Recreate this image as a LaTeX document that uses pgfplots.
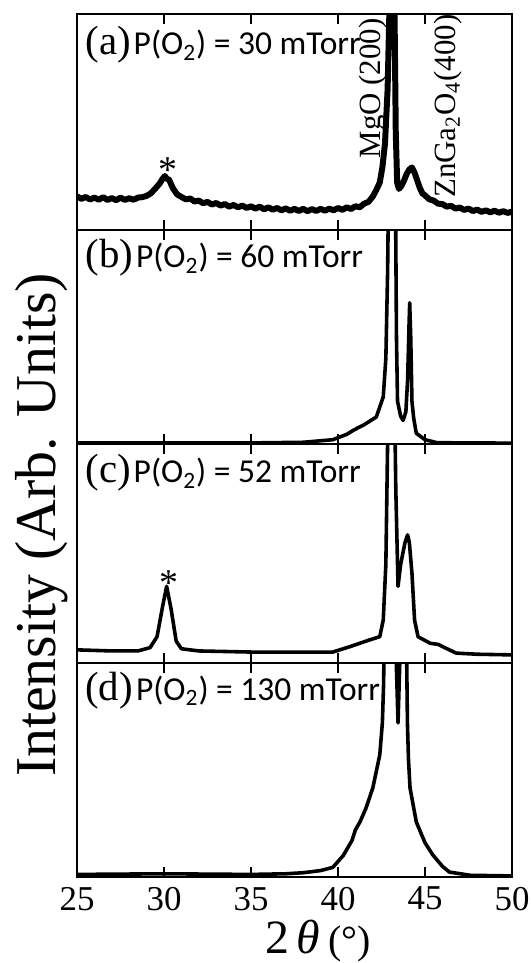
\documentclass[border=0pt]{standalone}
\usepackage{fontspec}
\setmainfont{Liberation Serif}
\newfontfamily\carlito{Carlito}
\usepackage{pgfplots}
\pgfplotsset{compat=1.18}
\pgfplotsset{
  panel/.style={
    scale only axis, width=217.5bp,
    xmin=25, xmax=50, ymin=0, ymax=1,
    xtick={25,30,35,40,45,50}, ytick=\empty,
    xtick pos=both, tick align=inside,
    major tick length=5bp,
    every tick/.style={black, line width=1bp},
    axis line style={line width=1.1bp},
    xticklabels={},
    anchor=south west,
    clip=true,
  },
  curve/.style={black, line width=1.8pt, line join=round, no marks},
}
\newcommand{\plab}[2]{{\fontsize{20.5}{20.5}\selectfont(#1)}\kern1.5bp{\carlito\fontsize{16.8}{16.8}\selectfont P(O\textsubscript{2}) = #2 mTorr}}
\begin{document}
\begin{tikzpicture}
\useasboundingbox (0,0) rectangle (265.5bp,481.5bp);
% ---------- (a)
\begin{axis}[panel, at={(38.5bp,366.5bp)}, height=108bp]
\addplot[curve, line width=3pt] coordinates {
(25.00,0.156) (25.25,0.144) (25.50,0.153) (25.75,0.141) (26.00,0.150) (26.25,0.140)
(26.50,0.152) (26.75,0.139) (27.00,0.148) (27.25,0.138) (27.50,0.150) (27.75,0.139)
(28.00,0.147) (28.25,0.140) (28.50,0.150) (28.75,0.152) (29.00,0.158) (29.25,0.170)
(29.50,0.192) (29.75,0.215) (29.90,0.235) (30.05,0.250) (30.15,0.238) (30.30,0.232)
(30.50,0.195) (30.75,0.165) (31.00,0.153) (31.25,0.142) (31.50,0.146) (31.75,0.132)
(32.00,0.136) (32.25,0.124) (32.50,0.130) (32.75,0.118) (33.00,0.125) (33.25,0.113)
(33.50,0.120) (33.75,0.108) (34.00,0.116) (34.25,0.105) (34.50,0.113) (34.75,0.102)
(35.00,0.110) (35.25,0.099) (35.50,0.108) (35.75,0.096) (36.00,0.105) (36.25,0.094)
(36.50,0.102) (36.75,0.091) (37.00,0.100) (37.25,0.089) (37.50,0.098) (37.75,0.088)
(38.00,0.098) (38.25,0.087) (38.50,0.097) (38.75,0.088) (39.00,0.098) (39.25,0.089)
(39.50,0.099) (39.75,0.091) (40.00,0.102) (40.25,0.093) (40.50,0.105) (40.75,0.097)
(41.00,0.110) (41.25,0.105) (41.50,0.122) (41.75,0.130) (42.00,0.155) (42.20,0.185)
(42.40,0.220) (42.55,0.290) (42.70,0.400) (42.85,0.650) (42.95,1.000) (43.05,1.600)
(43.15,1.800) (43.25,1.000) (43.32,0.450) (43.40,0.220) (43.50,0.190) (43.65,0.205)
(43.80,0.230) (43.95,0.260) (44.10,0.280) (44.25,0.290) (44.40,0.265) (44.55,0.230)
(44.70,0.195) (44.85,0.170) (45.00,0.160) (45.25,0.142) (45.50,0.136) (45.75,0.122)
(46.00,0.120) (46.25,0.108) (46.50,0.112) (46.75,0.099) (47.00,0.104) (47.25,0.093)
(47.50,0.099) (47.75,0.088) (48.00,0.094) (48.25,0.084) (48.50,0.091) (48.75,0.082)
(49.00,0.089) (49.25,0.080) (49.50,0.087) (49.75,0.079) (50.00,0.085)
};
\node[anchor=base west, inner sep=0pt] at ([xshift=4bp,yshift=-20.5bp]rel axis cs:0,1) {\plab{a}{30}};
\node[rotate=90, anchor=base west, inner sep=0pt, font=\fontsize{15.5}{15.5}\selectfont] at (axis cs:42.45,0.33) {MgO (200)};
\node[rotate=90, anchor=base west, inner sep=0pt, font=\fontsize{15.5}{15.5}\selectfont] at (axis cs:46.75,0.148) {ZnGa\textsubscript{2}O\textsubscript{4}(400)};
\node[anchor=base, inner sep=0pt, font=\fontsize{19}{19}\selectfont] at (axis cs:30.2,0.22) {*};
\end{axis}
% ---------- (b)
\begin{axis}[panel, at={(38.5bp,259.5bp)}, height=107bp]
\addplot[curve] coordinates {
(25,0.005) (35,0.005) (38,0.008) (39.7,0.02) (40.5,0.045) (40.9,0.065) (41.5,0.09)
(42.2,0.126) (42.6,0.22) (42.75,0.4) (42.85,0.8) (42.95,1.5) (43.1,1.8) (43.3,1.2)
(43.36,0.5) (43.42,0.2) (43.6,0.13) (43.74,0.11) (43.9,0.15) (44.0,0.3) (44.08,0.55)
(44.12,0.66) (44.18,0.5) (44.25,0.2) (44.35,0.12) (44.5,0.05) (45.0,0.02) (45.7,0.006)
(50,0.004)
};
\node[anchor=base west, inner sep=0pt] at ([xshift=4bp,yshift=-19bp]rel axis cs:0,1) {\plab{b}{60}};
\end{axis}
% ---------- (c)
\begin{axis}[panel, at={(38.5bp,150bp)}, height=109.5bp]
\addplot[curve] coordinates {
(25,0.06) (27,0.055) (28.5,0.055) (29.2,0.07) (29.6,0.12) (29.9,0.25) (30.15,0.35)
(30.4,0.25) (30.7,0.1) (31.0,0.065) (32,0.055) (35,0.05) (38,0.05) (39.7,0.05)
(40.7,0.075) (41.8,0.105) (42.4,0.12) (42.6,0.196) (42.75,0.45) (42.85,1.0) (43.0,1.8)
(43.2,1.5) (43.32,0.8) (43.45,0.35) (43.6,0.45) (43.85,0.55) (44.0,0.585) (44.1,0.55)
(44.25,0.41) (44.4,0.196) (44.6,0.12) (45.3,0.09) (45.75,0.085) (46.0,0.075)
(46.8,0.045) (48,0.04) (50,0.037)
};
\node[anchor=base west, inner sep=0pt] at ([xshift=4bp,yshift=-19.5bp]rel axis cs:0,1) {\plab{c}{52}};
\node[anchor=base, inner sep=0pt, font=\fontsize{19}{19}\selectfont] at (axis cs:30.3,0.31) {*};
\end{axis}
% ---------- (d)
\begin{axis}[panel, at={(38.5bp,43bp)}, height=107bp,
  xticklabels={25,30,35,40,45,50},
  xtick pos=both, xticklabel pos=bottom,
  xticklabel style={font=\fontsize{17.5}{17.5}\selectfont, yshift=-1.5bp}]
\addplot[curve] coordinates {
(25,0.012) (30,0.015) (35,0.012) (37,0.015) (38,0.02) (39,0.03) (39.7,0.045)
(40.3,0.10) (40.8,0.17) (41.0,0.22) (41.26,0.257) (41.6,0.32) (42.0,0.416)
(42.4,0.57) (42.55,0.72) (42.62,0.9) (42.67,1.2) (42.8,1.6) (43.2,1.8) (43.35,1.0)
(43.45,0.72) (43.55,1.0) (43.75,1.6) (43.95,1.0) (43.99,0.72) (44.05,0.55)
(44.14,0.416) (44.5,0.257) (45.0,0.16) (45.45,0.103) (46.0,0.05) (46.4,0.023)
(47.6,0.008) (50,0.005)
};
\node[anchor=base west, inner sep=0pt] at ([xshift=4bp,yshift=-18.5bp]rel axis cs:0,1) {\plab{d}{130}};
\end{axis}
\node[anchor=base, inner sep=0pt] at (159bp,5bp)
  {\fontsize{24}{24}\selectfont 2\,\textit{θ}\,{\fontsize{20}{20}\selectfont(°)}};
\node[rotate=90, anchor=base, inner sep=0pt, font=\fontsize{29}{29}\selectfont] at (27.5bp,219bp) {Intensity (Arb. Units)};
\end{tikzpicture}
\end{document}
